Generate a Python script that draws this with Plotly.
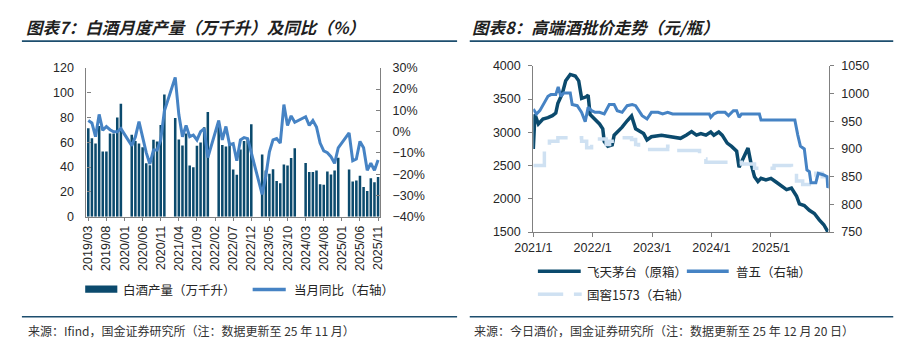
import plotly.graph_objects as go

W, H = 907, 355

# ---------------- Chart 7 data ----------------
months = [f"{y}/{m:02d}" for y in range(2019, 2026) for m in range(1, 13)]
months = months[2:2 + 81]  # 2019/03 .. 2025/11

production = [
    71.3, 63.3, 59.0, 73.0, 52.6, 52.6, 67.0, 67.0, 80.0, 91.0,
    None, None, 66.0, 61.0, 59.0, 56.0, 43.0, 41.5, 62.0, 60.5, 73.8, 98.5,
    None, None, 79.5, 62.3, 57.3, 67.0, 41.2, 39.8, 57.2, 59.8, 72.0, 84.4,
    None, None, 77.4, 57.7, 56.5, 57.5, 38.0, 33.7, 54.2, 61.0, 62.7, 74.6,
    None, None, 50.2, 37.3, 34.7, 38.2, 28.8, 27.0, 42.1, 41.2, 47.3, 55.2,
    None, None, 43.2, 36.0, 36.0, 37.3, 26.2, 25.7, 36.5, 34.1, 37.3, 47.5,
    None, None, 38.1, 28.3, 29.2, 33.0, 23.9, 20.8, 30.9, 27.8, 32.0,
]
yoy = [
    5.2, 4.1, -2.4, 8.1, 0.6, 2.4, 0.9, -0.1, -0.1, 1.4,
    None, None, -6.6, -2.5, 4.7, -2.4, -9.9, -15.2, -8.7, -8.7, -3.9, 9.7,
    None, None, 25.5, 8.0, -2.4, 2.9, -2.4, -1.6, -3.9, 0.0, 1.4, -12.2,
    None, None, 5.2, -3.9, 2.4, -6.1, -5.6, -13.7, -3.9, -2.8, -3.3, -9.9,
    None, None, -29.5, -21.0, -9.5, -3.9, -3.3, -5.4, 12.7, 2.9, 7.4, 4.4,
    None, None, 7.0, 2.9, 5.2, 2.2, -5.4, -9.1, -9.9, -11.8, -14.9, -7.6,
    None, None, -0.6, -13.7, -12.9, -4.6, -7.6, -18.2, -14.9, -18.2, -13.4,
]
month_ticks = months[::5]

# ---------------- Chart 8 data ----------------
moutai_dates = [
    "2021-01-01", "2021-01-11", "2021-02-01", "2021-03-01", "2021-04-01", "2021-04-28",
    "2021-05-19", "2021-06-01", "2021-06-28", "2021-07-19", "2021-08-16", "2021-09-16",
    "2021-10-07", "2021-10-25", "2021-11-22", "2021-12-04", "2021-12-16", "2022-01-16",
    "2022-02-12", "2022-03-04", "2022-03-13", "2022-04-04", "2022-05-01", "2022-05-13",
    "2022-06-13", "2022-07-01", "2022-08-01", "2022-08-28", "2022-09-22", "2022-10-10",
    "2022-11-10", "2022-12-01", "2022-12-28", "2023-02-28", "2023-04-28", "2023-06-25",
    "2023-08-01", "2023-09-01", "2023-10-01", "2023-10-28", "2023-11-28", "2023-12-28",
    "2024-01-16", "2024-02-15", "2024-03-07", "2024-04-07", "2024-05-04", "2024-06-04",
    "2024-06-19", "2024-07-13", "2024-08-04", "2024-08-13", "2024-09-01", "2024-09-22",
    "2024-10-13", "2024-11-01", "2024-12-01", "2025-01-01", "2025-01-28", "2025-02-27",
    "2025-04-07", "2025-05-07", "2025-06-07", "2025-06-25", "2025-07-25", "2025-08-25",
    "2025-09-25", "2025-10-25", "2025-11-22", "2025-12-12", "2025-12-20",
]
moutai = [
    2750, 3270, 3125, 3200, 3220, 3250,
    3290, 3437, 3580, 3775, 3870, 3846,
    3774, 3510, 3534, 3558, 3269, 3200,
    3125, 3053, 2860, 2790, 2812, 2957,
    3029, 3077, 3173, 3245, 3053, 3029,
    2981, 2885, 2933, 2957, 2933, 2909,
    2960, 3010, 2957, 2981, 2957, 3005,
    2957, 3005, 2957, 2837, 2788, 2716,
    2476, 2596, 2692, 2764, 2524, 2332,
    2260, 2308, 2284, 2308, 2260, 2211,
    2139, 2163, 2043, 1923, 1899, 1827,
    1779, 1683, 1611, 1524, 1520,
]
puwu_dates = [
    "2021-01-01", "2021-01-20", "2021-02-10", "2021-03-10", "2021-04-01", "2021-04-19",
    "2021-05-19", "2021-06-03", "2021-06-19", "2021-07-07", "2021-08-16", "2021-08-28",
    "2021-09-28", "2021-10-25", "2021-11-16", "2021-12-04", "2021-12-25", "2022-01-16",
    "2022-02-12", "2022-03-13", "2022-04-13", "2022-05-13", "2022-06-01", "2022-07-01",
    "2022-08-01", "2022-09-01", "2022-09-22", "2022-11-01", "2022-12-01", "2022-12-28",
    "2023-02-07", "2023-03-07", "2023-04-07", "2023-05-07", "2023-06-07", "2023-12-19",
    "2023-12-28", "2024-01-16", "2024-02-07", "2024-03-25", "2024-04-15", "2024-05-15",
    "2024-06-04", "2024-06-19", "2024-07-04", "2024-10-22", "2024-11-01", "2025-05-28",
    "2025-06-15", "2025-07-01", "2025-07-25", "2025-08-10", "2025-08-25", "2025-09-04",
    "2025-10-04", "2025-10-19", "2025-11-22", "2025-12-12", "2025-12-16", "2025-12-20",
]
puwu = [
    972, 963, 969, 983, 995, 998,
    998, 1012, 995, 1001, 1001, 980,
    978, 966, 949, 975, 969, 966,
    966, 963, 980, 980, 969, 966,
    978, 980, 978, 960, 954, 966,
    966, 963, 966, 963, 963, 963,
    957, 963, 966, 966, 960, 969,
    969, 957, 963, 963, 952, 952,
    925, 905, 900, 862, 859, 839,
    839, 856, 853, 850, 830, 832,
]
guojiao_dates = [
    "2021-01-01", "2021-02-10", "2021-03-10", "2021-04-10", "2021-06-01", "2021-09-07",
    "2021-10-25", "2021-11-25", "2021-12-25", "2022-03-04", "2022-03-25", "2022-04-15",
    "2022-05-15", "2022-08-28", "2022-09-22", "2022-10-10", "2022-11-01", "2023-03-07",
    "2023-04-07", "2023-05-07", "2023-10-10", "2023-10-20", "2023-11-28", "2024-05-04",
    "2024-07-04", "2024-09-22", "2025-01-01", "2025-01-20", "2025-03-20", "2025-05-07",
    "2025-06-07", "2025-07-15", "2025-08-25", "2025-10-04", "2025-11-12", "2025-12-20",
]
guojiao = [
    870, 870, 897, 914, 920, 920,
    914, 902, 918, 918, 908, 914,
    920, 917, 908, 902, 899, 899,
    905, 897, 897, 882, 876, 876,
    873, 865, 865, 870, 870, 859,
    842, 836, 850, 856, 850, 850,
]
year_ticks = ["2021-01-01", "2022-01-01", "2023-01-01", "2024-01-01", "2025-01-01"]
year_labels = ["2021/1", "2022/1", "2023/1", "2024/1", "2025/1"]

# ---------------- helpers (pixel -> paper) ----------------
def px(x):
    return x / W


def py(y):
    return (H - y) / H


NAVY = "#0b4a6d"
BLUE = "#4683c4"
LIGHT = "#cfe1f2"
AXIS = "#808080"
TXT = "#262626"
TICKFONT = dict(family="Liberation Sans, Arial", size=12.5, color=TXT)
CJK = "Noto Sans CJK SC"

fig = go.Figure()

fig.add_trace(go.Bar(x=months, y=production, marker=dict(color=NAVY, line=dict(width=0)),
                     xaxis="x", yaxis="y", showlegend=False))
fig.add_trace(go.Scatter(x=months, y=yoy, mode="lines", connectgaps=True,
                         line=dict(color=BLUE, width=3), xaxis="x", yaxis="y2", showlegend=False))

fig.add_trace(go.Scatter(x=guojiao_dates, y=guojiao, mode="lines",
                         line=dict(color=LIGHT, width=3.5, dash="25px,12px", shape="hv"),
                         xaxis="x2", yaxis="y4", showlegend=False))
fig.add_trace(go.Scatter(x=puwu_dates, y=puwu, mode="lines",
                         line=dict(color=BLUE, width=3),
                         xaxis="x2", yaxis="y4", showlegend=False))
fig.add_trace(go.Scatter(x=moutai_dates, y=moutai, mode="lines",
                         line=dict(color=NAVY, width=3.5),
                         xaxis="x2", yaxis="y3", showlegend=False))

y1dom = [py(218.3), py(63.3)]
y3dom = [py(234.3), py(61.2)]

fig.update_layout(
    width=W, height=H, margin=dict(l=0, r=0, t=0, b=0),
    paper_bgcolor="white", plot_bgcolor="rgba(0,0,0,0)",
    bargap=0.3,
    font=dict(family=CJK, color=TXT),
    xaxis=dict(domain=[px(69.3), px(370.7)], type="category", range=[-0.5, 80.5],
               tickmode="array", tickvals=month_ticks, ticktext=month_ticks, tickangle=-90,
               tickfont=TICKFONT, showline=True, linecolor=AXIS, linewidth=1.2,
               ticks="outside", ticklen=3, tickcolor=AXIS, showgrid=False, zeroline=False,
               anchor="y"),
    yaxis=dict(domain=y1dom, range=[0, 120], dtick=20, tickfont=TICKFONT,
               showline=True, linecolor=AXIS, linewidth=1.2, ticks="inside", ticklen=4,
               tickcolor=AXIS, showgrid=False, zeroline=False, anchor="x",
               ticklabelstandoff=9),
    yaxis2=dict(domain=y1dom, range=[-40, 30], dtick=10, ticksuffix="%", tickfont=TICKFONT,
                overlaying="y", side="right", anchor="x",
                showline=True, linecolor=AXIS, linewidth=1.2, ticks="inside", ticklen=4,
                tickcolor=AXIS, showgrid=False, zeroline=False, ticklabelstandoff=9),
    xaxis2=dict(domain=[px(528.3), px(831.7)], type="date", range=["2021-01-01", "2025-12-22"],
                tickmode="array", tickvals=year_ticks, ticktext=year_labels, tickfont=TICKFONT,
                showline=True, linecolor=AXIS, linewidth=1.2, ticks="outside", ticklen=4,
                tickcolor=AXIS, showgrid=False, zeroline=False, anchor="y3"),
    yaxis3=dict(domain=y3dom, range=[1500, 4000], dtick=500, tickfont=TICKFONT,
                showline=True, linecolor=AXIS, linewidth=1.2, ticks="outside", ticklen=4,
                tickcolor=AXIS, showgrid=False, zeroline=False, anchor="x2",
                ticklabelstandoff=5),
    yaxis4=dict(domain=y3dom, range=[750, 1050], dtick=50, tickfont=TICKFONT,
                overlaying="y3", side="right", anchor="x2",
                showline=True, linecolor=AXIS, linewidth=1.2, ticks="outside", ticklen=4,
                tickcolor=AXIS, showgrid=False, zeroline=False, ticklabelstandoff=5),
)

shapes = []
annos = []

def hline(x0, x1, y, color, width, dash=None):
    d = dict(type="line", xref="paper", yref="paper", x0=px(x0), x1=px(x1), y0=py(y), y1=py(y),
             line=dict(color=color, width=width))
    if dash:
        d["line"]["dash"] = dash
    shapes.append(d)


def text(x, y, s, size=12.5, color=TXT, anchor="left", **kw):
    annos.append(dict(xref="paper", yref="paper", x=px(x), y=py(y), text=s, showarrow=False,
                      xanchor=anchor, yanchor="middle",
                      font=dict(family=CJK, size=size, color=color), **kw))

# titles and rules
TITLE_C = "#1f1f1f"
text(5, 21, "<b><i>图表7：白酒月度产量（万千升）及同比（%）</i></b>", size=16.5, color=TITLE_C)
text(463, 21, "<b><i>图表8：高端酒批价走势（元/瓶）</i></b>", size=16.5, color=TITLE_C)
hline(3, 450, 35.5, "#1d4e6e", 1.6)
hline(463, 898, 35.5, "#1d4e6e", 1.6)
hline(3, 450, 322.5, "#1d4e6e", 1.6)
hline(463, 898, 322.5, "#1d4e6e", 1.6)

# sources
text(7, 337, "来源：Ifind，国金证券研究所（注：数据更新至 25 年 11 月）", size=12, color="#333333")
text(465, 337, "来源：今日酒价，国金证券研究所（注：数据更新至 25 年 12 月 20 日）", size=12, color="#333333")

# legend chart 7
shapes.append(dict(type="rect", xref="paper", yref="paper", x0=px(68), x1=px(101),
                   y0=py(297.5), y1=py(290), fillcolor=NAVY, line=dict(width=0)))
text(105, 294, "白酒产量（万千升）", size=12.5)
hline(240, 274, 294, BLUE, 3.5)
text(280, 294, "当月同比（右轴）", size=12.5)

# legend chart 8
hline(533, 577, 275, NAVY, 3.5)
text(581, 275, "飞天茅台（原箱）", size=12.5)
hline(686, 729, 275, BLUE, 3.5)
text(734, 275, "普五（右轴）", size=12.5)
hline(533, 559, 299, LIGHT, 3.5)
hline(570, 578, 299, LIGHT, 3.5)
text(581, 299, "国窖1573（右轴）", size=12.5)

fig.update_layout(shapes=shapes, annotations=annos)

fig.write_html("out.html", config={"displayModeBar": False},
               post_script="document.body.style.margin='0';")
